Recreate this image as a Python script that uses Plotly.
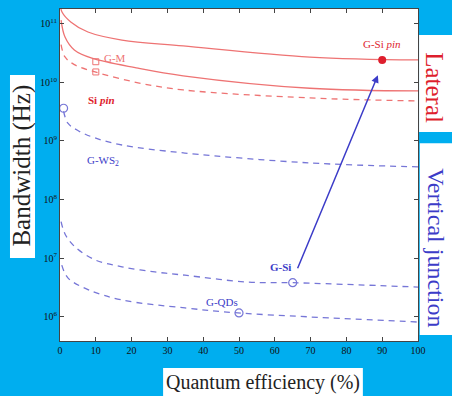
import numpy as np
import plotly.graph_objects as go

# ---- data (quantum efficiency %, bandwidth Hz) ----
lat1_x = [0.15, 0.56, 3, 7.8, 17.3, 34.4, 69.8, 100]
lat1_y = [2.0e11, 1.58e11, 1.07e11, 7.2e10, 5.25e10, 4.17e10, 2.69e10, 2.40e10]

lat2_x = [0.3, 1.4, 4, 8.9, 21.8, 34.4, 69.8, 100]
lat2_y = [1.15e11, 5.9e10, 3.55e10, 2.57e10, 1.74e10, 1.29e10, 7.9e9, 7.1e9]

lat3_x = [0.3, 1.4, 4, 9.8, 21.8, 34.4, 69.8, 100]
lat3_y = [4.4e10, 2.7e10, 2.0e10, 1.5e10, 9.8e9, 7.4e9, 5.4e9, 4.8e9]

ws2_x = [1, 2.2, 5, 9.8, 17.3, 34.9, 69.8, 100]
ws2_y = [3.2e9, 2.0e9, 1.5e9, 1.12e9, 8.5e8, 6.2e8, 4.2e8, 3.6e8]

gsi_x = [0.3, 1.5, 4.2, 9.8, 17.3, 26.5, 34.9, 52.2, 65, 100]
gsi_y = [4.2e7, 2.5e7, 1.55e7, 9.3e6, 7.1e6, 5.8e6, 5.1e6, 3.9e6, 3.8e6, 3.2e6]

gqd_x = [0.5, 2.2, 7.8, 17.3, 34.9, 49.7, 69.8, 100]
gqd_y = [7.6e6, 4.6e6, 2.9e6, 1.93e6, 1.41e6, 1.16e6, 9.9e5, 8.1e5]

gsipin_pt = (90, 2.4e10)
gm_x = [10, 10]
gm_y = [2.24e10, 1.5e10]
sipin_pt = (1, 3.6e9)
gsi_pt = (65, 3.8e6)
gqd_pt = (50, 1.16e6)
arrow_start = (66.2, 6.3e6)
arrow_end = (88.8, 1.32e10)

x_ticks = [0, 10, 20, 30, 40, 50, 60, 70, 80, 90, 100]
y_exps = [6, 7, 8, 9, 10, 11]

RED_L = "rgb(238,115,115)"
BLUE_L = "rgb(118,118,215)"
RED = "rgb(222,30,45)"
BLUE = "rgb(60,60,200)"
SERIF = "Liberation Serif, Times New Roman, serif"

fig = go.Figure()
fig.add_trace(go.Scatter(x=lat1_x, y=lat1_y, mode="lines", line=dict(color=RED_L, width=1.3, shape="spline")))
fig.add_trace(go.Scatter(x=lat2_x, y=lat2_y, mode="lines", line=dict(color=RED_L, width=1.3, shape="spline")))
fig.add_trace(go.Scatter(x=lat3_x, y=lat3_y, mode="lines", line=dict(color=RED_L, width=1.3, dash="6px,5px", shape="spline")))
for xs, ys in [(ws2_x, ws2_y), (gsi_x, gsi_y), (gqd_x, gqd_y)]:
    fig.add_trace(go.Scatter(x=xs, y=ys, mode="lines", line=dict(color=BLUE_L, width=1.3, dash="6px,5px", shape="spline")))

fig.add_trace(go.Scatter(x=[gsipin_pt[0]], y=[gsipin_pt[1]], mode="markers",
                         marker=dict(color=RED, size=8)))
fig.add_trace(go.Scatter(x=gm_x, y=gm_y, mode="markers",
                         marker=dict(symbol="square-open", color=RED_L, size=6, line=dict(width=1))))
fig.add_trace(go.Scatter(x=[sipin_pt[0], gsi_pt[0], gqd_pt[0]], y=[sipin_pt[1], gsi_pt[1], gqd_pt[1]],
                         mode="markers", cliponaxis=False,
                         marker=dict(symbol="circle-open", color=BLUE_L, size=8, line=dict(width=1.2))))

fig.add_annotation(x=arrow_end[0], y=np.log10(arrow_end[1]), ax=arrow_start[0], ay=np.log10(arrow_start[1]),
                   xref="x", yref="y", axref="x", ayref="y", text="", showarrow=True,
                   arrowhead=2, arrowsize=1, arrowwidth=1.5, arrowcolor=BLUE)

labels = [
    ("G-M", 15.4, 2.6e10, RED_L, False),
    ("Si <i>pin</i>", 11.5, 5.0e9, RED, True),
    ("G-Si <i>pin</i>", 90, 4.5e10, RED, False),
    ("G-WS<sub>2</sub>", 12.0, 4.6e8, BLUE, False),
    ("G-Si", 61.5, 7.1e6, BLUE, True),
    ("G-QDs", 45.3, 1.8e6, BLUE, False),
]
for t, x, y, c, b in labels:
    fig.add_annotation(x=x, y=np.log10(y), text=("<b>%s</b>" % t) if b else t, showarrow=False,
                       xanchor="center", yanchor="middle",
                       font=dict(family=SERIF, size=11, color=c))

# white boxes and titles
boxes = [(-0.1397, 0.25, -0.0698, 0.801), (0.288, -0.2, 0.846, -0.0813),
         (1.003, 0.6295, 1.1, 0.9217), (1.005, 0.018, 1.1, 0.596)]
for x0, y0, x1, y1 in boxes:
    fig.add_shape(type="rect", xref="paper", yref="paper", x0=x0, y0=y0, x1=x1, y1=y1,
                  fillcolor="white", line=dict(width=0), layer="below")

titles = [
    ("Bandwidth (Hz)", -0.1047, 0.527, -90, 25, "#222"),
    ("Quantum efficiency (%)", 0.567, -0.1235, 0, 20, "#222"),
    ("Lateral", 1.047, 0.762, 90, 25, RED),
    ("Vertical junction", 1.050, 0.28, 90, 24, BLUE),
]
for t, x, y, ang, sz, c in titles:
    fig.add_annotation(xref="paper", yref="paper", x=x, y=y, text=t, textangle=ang,
                       xanchor="center", yanchor="middle", showarrow=False,
                       font=dict(family=SERIF, size=sz, color=c))

fig.update_layout(
    width=452, height=396, showlegend=False,
    margin=dict(l=60, r=34, t=9, b=55),
    paper_bgcolor="rgb(0,174,239)", plot_bgcolor="white",
    xaxis=dict(range=[0, 100], tickvals=x_ticks, ticks="inside", ticklen=4, showline=True,
               linecolor="#444", mirror="ticks", showgrid=False, zeroline=False,
               tickfont=dict(family=SERIF, size=10, color="#111")),
    yaxis=dict(type="log", range=[5.585, 11.25], tickvals=[10 ** e for e in y_exps],
               ticktext=["10<sup>%d</sup>" % e for e in y_exps], ticks="inside", ticklen=4,
               showline=True, linecolor="#444", mirror="ticks", showgrid=False, zeroline=False,
               tickfont=dict(family=SERIF, size=10, color="#111")),
)
fig.write_html("out.html", config={"displayModeBar": False},
               post_script="document.body.style.margin='0';document.body.style.overflow='hidden';")
